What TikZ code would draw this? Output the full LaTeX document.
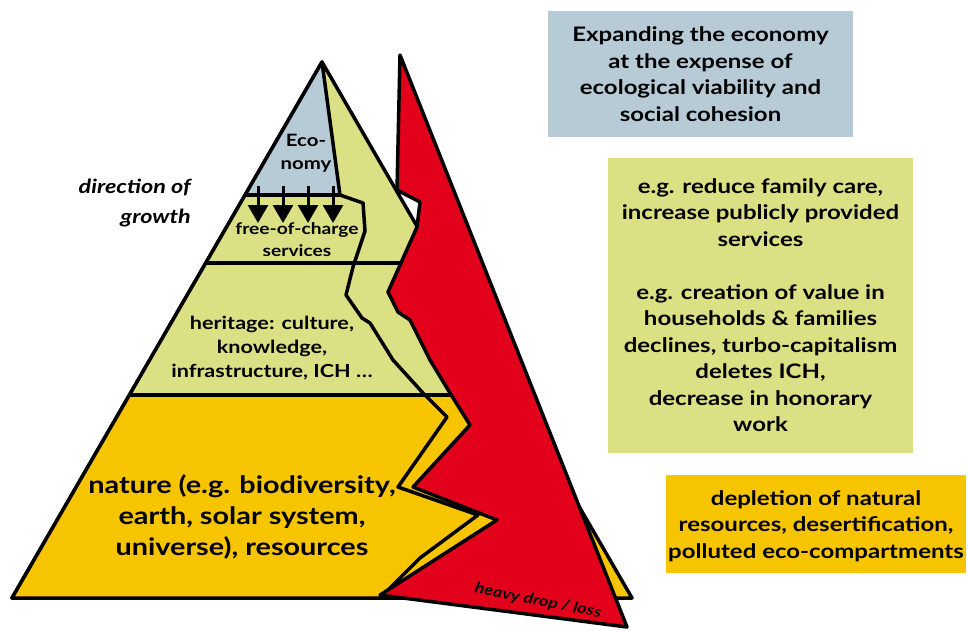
\documentclass[tikz,border=0pt]{standalone}
\usepackage{fontspec}
\setmainfont{Lato}[FakeStretch=1.2]
\usetikzlibrary{arrows.meta}
\definecolor{cblue}{HTML}{B6CBD6}
\definecolor{cgreen}{HTML}{DCE084}
\definecolor{cyellow}{HTML}{F7C400}
\definecolor{cred}{HTML}{E2001A}
\newcommand\frontshape{(322,62) -- (340,195) -- (363,203) -- (365,231) -- (353,267) -- (346,295) -- (362,318) -- (370,323) -- (393,360) -- (423,393) -- (447,417) -- (398,487) -- (478,515) -- (420,558) -- (380,598) -- (12,598) -- cycle}
\newcommand\redshape{(400,55) -- (627,627) -- (380,595) -- (497,520) -- (413,487) -- (470,425) -- (450,393) -- (430,360) -- (410,320) -- (398,312) -- (388,292) -- (417,227) -- (420,202) -- (397,190) -- cycle}
\begin{document}
\begin{tikzpicture}[x=1pt,y=-1pt,
  outl/.style={line width=3.5pt, line join=round},
  sep/.style={line width=3.2pt},
  box/.style={inner sep=0pt, align=center, font=\bfseries\fontsize{20}{26.5}\selectfont},
  lbl/.style={inner sep=0pt, align=center, font=\bfseries\fontsize{16}{22}\selectfont},
  downarr/.style={line width=3pt, -{Triangle[width=20pt,length=18pt]}}]
\useasboundingbox (0,0) rectangle (968,630);
% back pyramid
\coordinate (apex) at (322,62);
\coordinate (bl) at (12,598);
\coordinate (br) at (632,598);
\begin{scope}
\clip (apex) -- (br) -- (bl) -- cycle;
\fill[cgreen] (0,0) rectangle (968,395);
\fill[cyellow] (0,395) rectangle (968,630);
\draw[sep] (0,263) -- (968,263);
\draw[sep] (0,395) -- (968,395);
\end{scope}
\draw[outl] (apex) -- (br) -- (bl) -- cycle;
% front (eroded) pyramid
\begin{scope}
\clip \frontshape;
\fill[cblue] (0,0) rectangle (968,195);
\fill[cgreen] (0,195) rectangle (968,395);
\fill[cyellow] (0,395) rectangle (968,630);
\draw[sep] (0,195) -- (968,195);
\draw[sep] (0,263) -- (968,263);
\draw[sep] (0,395) -- (968,395);
\end{scope}
\draw[outl] \frontshape;
% red shape
\draw[outl, fill=cred] \redshape;
% arrows
\foreach \i/\x in {1/258,2/283,3/308,4/333}{
  \coordinate (s\i) at (\x,186);
  \coordinate (e\i) at (\x,223);
  \draw[downarr] (s\i) -- (e\i);
}
% labels in pyramid
\node[inner sep=0pt, align=center, font=\bfseries\fontsize{17}{23}\selectfont] (eco) at (306,153) {Eco-\\nomy};
\node[lbl] (free) at (297,240) {free-of-charge\\services};
\node[inner sep=0pt, align=center, font=\bfseries\fontsize{18}{24}\selectfont] (her) at (272,348) {heritage: culture,\\knowledge,\\infrastructure, ICH \dots};
\node[inner sep=0pt, align=center, font=\bfseries\fontsize{24}{31}\selectfont] (nat) at (242,517) {nature (e.g. biodiversity,\\earth, solar system,\\universe), resources};
\node[inner sep=0pt, align=right, font=\bfseries\itshape\fontsize{19.5}{30}\selectfont, anchor=east] (dir) at (191,203) {direction of\\growth};
\node[inner sep=0pt, font=\bfseries\itshape\fontsize{15}{17}\selectfont, rotate=-11] (drop) at (538,601) {heavy drop / loss};
% boxes
\fill[cblue] (548,11) rectangle (853,137);
\node[box] (b1) at (700.5,74) {Expanding the economy\\at the expense of\\ecological viability and\\social cohesion};
\fill[cgreen] (608,158) rectangle (913,453);
\node[box] (b2) at (760.5,305) {e.g. reduce family care,\\increase publicly provided\\services\\[26.5pt]e.g. creation of value in\\households \& families\\declines, turbo-capitalism\\deletes ICH,\\decrease in honorary\\work};
\fill[cyellow] (666,475) rectangle (966,573);
\node[box] (b3) at (816,526) {depletion of natural\\resources, desertification,\\polluted eco-compartments};
\end{tikzpicture}
\end{document}
